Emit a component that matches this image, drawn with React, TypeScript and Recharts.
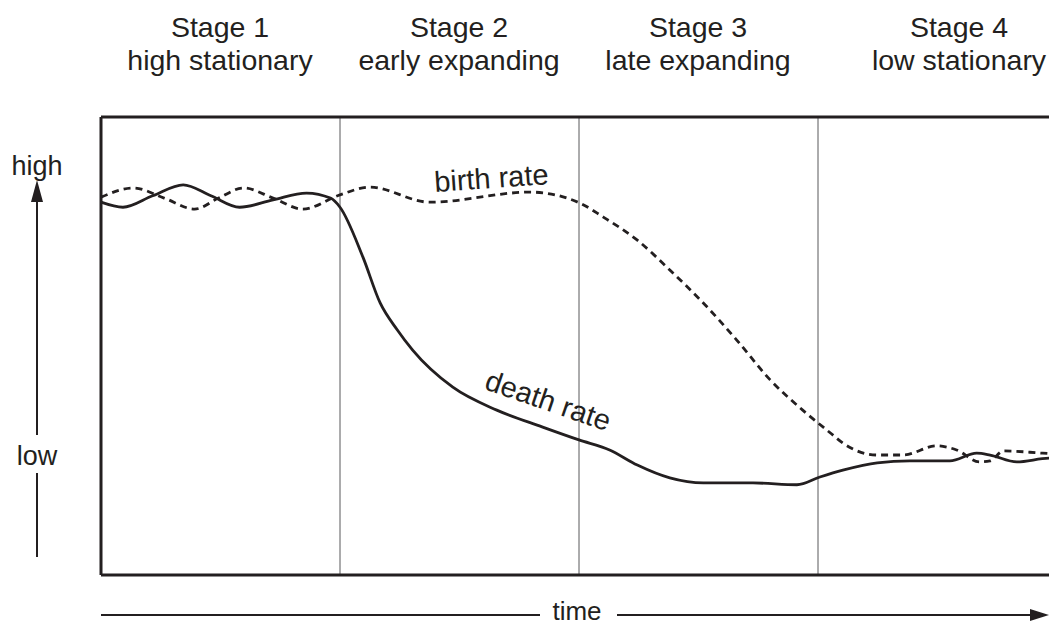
import React from "react"
import { LineChart, Line, XAxis, YAxis, ReferenceLine } from "recharts"

// time runs 0..100 across the four stages, rate runs 0 (low) .. 100 (high)
const stageBounds = [25, 50, 75]
const stageTitles = ["Stage 1", "Stage 2", "Stage 3", "Stage 4"]
const stageNames = ["high stationary", "early expanding", "late expanding", "low stationary"]

const birthTime = [0, 3.4, 6.6, 9.8, 12.3, 14.9, 18, 21.1, 25, 28.1, 34.4, 44.9, 50.1, 52.5, 56.1, 59.5, 63, 66.5, 70, 73.4, 76.3, 77.6, 81.2, 83.9, 87.4, 89.5, 91.9, 93, 94.4, 98.5, 100]
const birthRate = [82.5, 84.5, 82.3, 79.9, 82.3, 84.5, 82.3, 79.9, 83, 84.7, 81.4, 83.6, 81.2, 78.2, 73.1, 66.6, 59.4, 51.3, 42.6, 36, 31, 28.8, 26.2, 26.2, 28.2, 27.3, 24.7, 24.9, 27.1, 26.6, 26.4]

const deathTime = [0, 2.3, 5.4, 8.6, 11.5, 14.5, 18, 21.5, 24, 25, 27.4, 29.2, 31, 32.6, 36.8, 41.4, 46.2, 50, 53.2, 56.1, 59.5, 63, 68.2, 72.8, 75.2, 77.6, 81.2, 84.6, 88.8, 91.6, 93, 95.8, 99.2, 100]
const deathRate = [81.4, 80.3, 82.8, 85.2, 82.8, 80.3, 81.9, 83.4, 82.3, 80.3, 69.4, 59.4, 53.5, 49.1, 41, 36, 32.3, 29.5, 27.3, 24, 21.2, 20.1, 20.1, 19.7, 21.4, 22.9, 24.5, 24.9, 24.9, 26.6, 26.2, 24.7, 25.5, 25.5]

const birthData = birthTime.map((t, i) => ({ t, rate: birthRate[i] }))
const deathData = deathTime.map((t, i) => ({ t, rate: deathRate[i] }))

const ink = "#231f20"
const font = "'Liberation Sans', Arial, sans-serif"

export default function App() {
  return (
    <div
      style={{
        position: "absolute",
        left: 0,
        top: 0,
        width: 1049,
        height: 626,
        overflow: "hidden",
        background: "#fff",
        fontFamily: font,
      }}
    >
      <LineChart width={1070} height={626} margin={{ top: 117, left: 101, right: 13, bottom: 51 }}>
        <XAxis type="number" dataKey="t" domain={[0, 100]} hide allowDuplicatedCategory={false} />
        <YAxis type="number" domain={[0, 100]} hide />
        {stageBounds.map((x) => (
          <ReferenceLine key={x} x={x} stroke="#58595b" strokeWidth={1} />
        ))}
        <ReferenceLine x={0} stroke={ink} strokeWidth={3} />
        <ReferenceLine y={0} stroke={ink} strokeWidth={3} />
        <ReferenceLine y={100} stroke={ink} strokeWidth={3} />
        <Line
          data={birthData}
          dataKey="rate"
          type="monotone"
          stroke={ink}
          strokeWidth={2.8}
          strokeDasharray="7 5"
          dot={false}
          isAnimationActive={false}
        />
        <Line
          data={deathData}
          dataKey="rate"
          type="monotone"
          stroke={ink}
          strokeWidth={2.8}
          dot={false}
          isAnimationActive={false}
        />
      </LineChart>

      <svg
        width={1049}
        height={626}
        style={{ position: "absolute", left: 0, top: 0, pointerEvents: "none" }}
        fontFamily={font}
        fill={ink}
      >
        {stageTitles.map((s, i) => {
          const cx = i < 3 ? 220 + i * 239 : 959
          return (
            <g key={s} fontSize={28.5} textAnchor="middle">
              <text x={cx} y={37}>{s}</text>
              <text x={cx} y={70}>{stageNames[i]}</text>
            </g>
          )
        })}

        <text x={37} y={175} fontSize={27} textAnchor="middle">high</text>
        <text x={37} y={465} fontSize={27} textAnchor="middle">low</text>
        <line x1={37} y1={557} x2={37} y2={473} stroke={ink} strokeWidth={2} />
        <line x1={37} y1={435} x2={37} y2={200} stroke={ink} strokeWidth={2} />
        <polygon points="37,180 31,202 43,202" fill={ink} />

        <text x={577} y={620} fontSize={26} textAnchor="middle">time</text>
        <line x1={101} y1={615} x2={540} y2={615} stroke={ink} strokeWidth={2} />
        <line x1={617} y1={615} x2={1032} y2={615} stroke={ink} strokeWidth={2} />
        <polygon points="1049,615 1030,609 1030,621" fill={ink} />

        <text x={492} y={188} fontSize={29} textAnchor="middle" transform="rotate(-4 492 188)">birth rate</text>
        <text x={545} y={410} fontSize={29} textAnchor="middle" transform="rotate(19 545 410)">death rate</text>
      </svg>
    </div>
  )
}
